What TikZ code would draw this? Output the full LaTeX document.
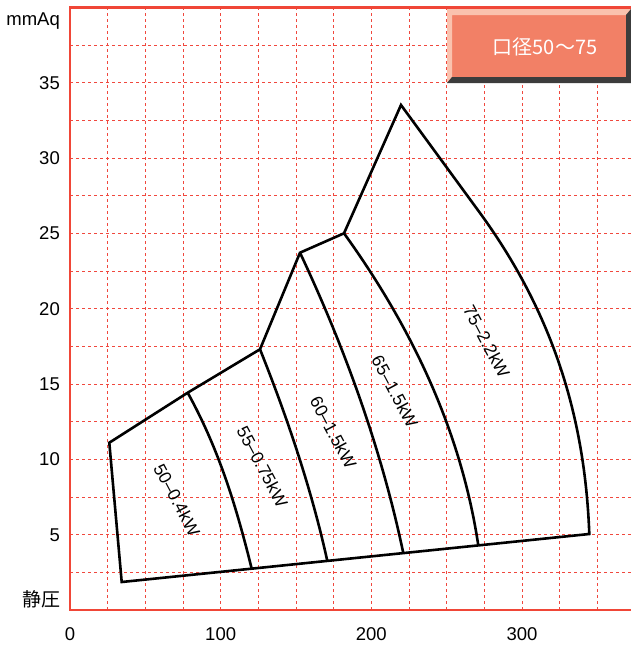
\documentclass[tikz,border=0pt]{standalone}
\usepackage{fontspec}
\setmainfont{Liberation Sans}
\newfontfamily\cjk{Noto Sans CJK JP}
\definecolor{gridred}{RGB}{240,72,62}
\definecolor{axisred}{RGB}{240,70,55}
\definecolor{boxface}{RGB}{242,128,102}
\definecolor{boxlight}{RGB}{250,194,174}
\definecolor{boxdark}{RGB}{60,60,60}
\begin{document}
\begin{tikzpicture}[x=1pt,y=-1pt,
  gridline/.style={gridred, dash pattern=on 3pt off 3pt, line width=0.9pt},
  axisline/.style={axisred, line width=2.4pt},
  curve/.style={black, line width=2.6pt, line join=miter},
  ticklab/.style={font=\fontsize{18.5}{20}\selectfont, inner sep=0pt},
  cjklab/.style={font=\cjk\fontsize{19}{21}\selectfont, inner sep=0pt},
  zonelab/.style={font=\fontsize{17.5}{19}\selectfont, rotate=-62, inner sep=0pt}]
\useasboundingbox (0,0) rectangle (631,646);
\fill[white] (0,0) rectangle (631,646);
% grid
\foreach \k in {1,...,14} \draw[gridline] ({70+37.67*\k},7.3) -- ({70+37.67*\k},610);
\foreach \k in {1,...,15} \draw[gridline] (70,{610-37.67*\k}) -- (631,{610-37.67*\k});
% axes
\draw[axisline] (631,7.3) -- (70,7.3) -- (70,610) -- (631,610);
% title box
\fill[boxface] (447,9) rectangle (631,83);
\fill[boxlight] (447,9) -- (631,9) -- (626,15) -- (452,15) -- (452,77) -- (447,83) -- cycle;
\fill[boxdark] (447,83) -- (452,77) -- (626,77) -- (626,15) -- (631,9) -- (631,83) -- cycle;
\node[cjklab, font=\cjk\fontsize{20}{22}\selectfont, text=white] (title) at (545,46.7) {口径50～75};
% axis labels
\node[ticklab, anchor=base east] (unit) at (60,25.5) {mmAq};
\node[cjklab, anchor=east] (sp) at (61,599) {静圧};
\foreach \v/\n in {5/y5,10/y10,15/y15,20/y20,25/y25,30/y30,35/y35}
  \node[ticklab, anchor=base east] (\n) at (60,{610-15.067*\v+6.6}) {\v};
\foreach \v/\n in {0/x0,100/x100,200/x200,300/x300}
  \node[ticklab, anchor=base] (\n) at ({70+1.5067*\v},640) {\v};
% outline
\draw[curve] (401,105) -- (344,233.3) -- (300,252.7) -- (260,349.3) -- (187.7,392.7)
  -- (109.3,442.7) -- (121.7,582) -- (589.3,534)
  .. controls (585.3,427) and (558,320) .. (480,213) -- cycle;
% inner curves
\draw[curve] (187.7,392.7) .. controls (220.2,451.7) and (237,509.7) .. (251.7,568.7);
\draw[curve] (260,349.3) .. controls (288,419.3) and (311.9,490.9) .. (327.3,560.9);
\draw[curve] (300,252.7) .. controls (347,352.7) and (382.3,453.1) .. (403.3,553.1);
\draw[curve] (344,233.3) .. controls (419,337.3) and (462.7,441.4) .. (478.3,545.4);
% zone labels
\node[zonelab] (z50) at (177,500) {50–0.4kW};
\node[zonelab] (z55) at (262.5,466.7) {55–0.75kW};
\node[zonelab] (z60) at (333.3,432.5) {60–1.5kW};
\node[zonelab] (z65) at (395,391.7) {65–1.5kW};
\node[zonelab] (z75) at (486.7,341.7) {75–2.2kW};
\end{tikzpicture}
\end{document}
